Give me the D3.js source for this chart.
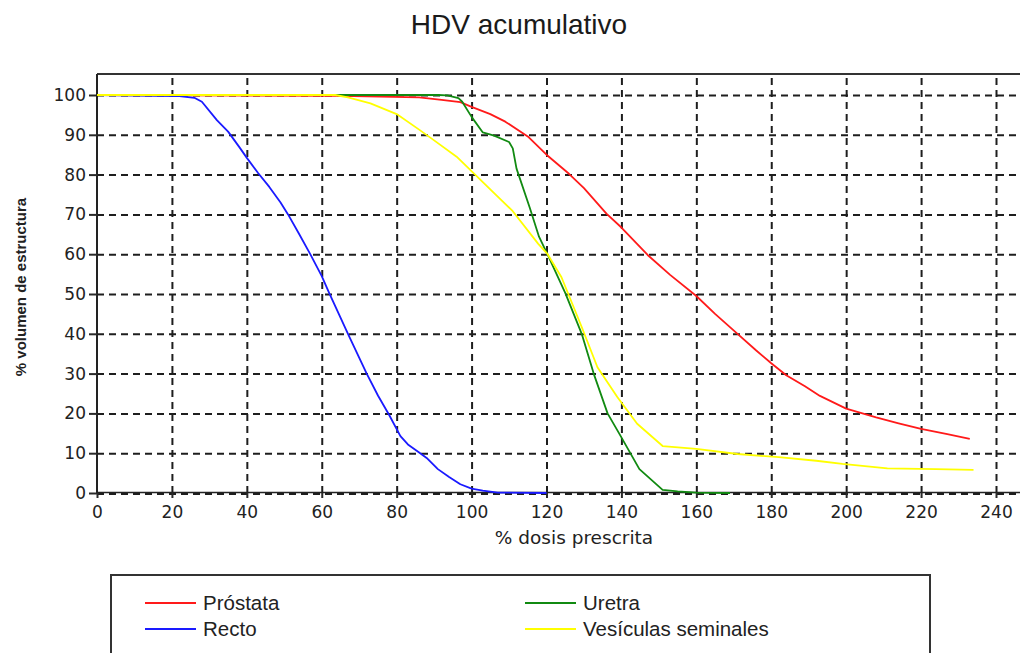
<!DOCTYPE html>
<html lang="es">
<head>
<meta charset="UTF-8">
<title>HDV acumulativo</title>
<script src="https://d3js.org/d3.v7.min.js"></script>
<style>
  body { margin: 0; background: #fff; }
  svg { display: block; }
  .grid line { stroke: #1e1e1e; stroke-width: 2; stroke-dasharray: 7,5; }
  .grid path { display: none; }
  .axis path { display: none; }
  .axis line { stroke: #2a2a2a; stroke-width: 2; }
  .axis text { font-family: "DejaVu Sans", sans-serif; font-size: 17px; fill: #222; }
</style>
</head>
<body>
<script>
// x: % dosis prescrita, y: % volumen de estructura
const doseProstata = [0, 65, 86, 92, 97, 100, 105, 109, 115, 120, 126, 130, 136, 140, 147, 153, 160, 165, 171, 176, 180, 184, 189, 193, 200, 208, 214, 220, 227, 233];
const volProstata  = [100, 99.8, 99.4, 98.8, 98.2, 97, 95.2, 93.3, 89.6, 85, 80.2, 76.6, 70.2, 66.7, 59.8, 54.8, 49.5, 45, 40, 35.8, 32.6, 29.6, 26.8, 24.4, 21.2, 19, 17.5, 16.1, 14.8, 13.6];

const doseRecto = [0, 22, 26, 28, 32, 35, 38, 40, 43, 46, 49, 51, 54, 57, 60, 62, 67, 72, 75, 78, 81, 83, 86, 88, 91, 94, 97, 100, 103, 107, 120];
const volRecto  = [100, 99.7, 99.3, 98.3, 93.7, 90.8, 86.9, 84.2, 80.4, 76.9, 73, 70, 65, 59.9, 54.5, 50.2, 40, 30, 24.5, 19.6, 14.3, 12.2, 10.2, 8.8, 6, 4, 2.2, 1.1, 0.6, 0.1, 0];

const doseUretra = [0, 91, 93.5, 96.5, 97.5, 100, 103, 106, 110, 111, 112, 115.6, 118, 120.2, 125, 129.4, 132.6, 136.3, 139.5, 144.8, 151, 155, 160, 169];
const volUretra  = [100, 100, 99.9, 99.2, 98.3, 94.5, 90.6, 89.8, 88.2, 86.6, 81.5, 71.5, 64.4, 60.1, 50.3, 40, 30, 20, 14.8, 6, 0.8, 0.4, 0.1, 0];

const doseVesiculas = [0, 63.6, 67, 73, 80, 86, 90, 96, 100.6, 106.5, 111, 117.8, 120.3, 124, 129.4, 133.6, 138.9, 144.2, 151, 160, 171, 182, 192, 199, 211, 224, 234];
const volVesiculas  = [100, 100, 99.4, 97.9, 95.2, 91.3, 88.6, 84.5, 80.3, 74.9, 70.8, 62.6, 60, 54.2, 41.7, 31.6, 24.1, 17.4, 11.8, 11.1, 9.8, 9, 8.1, 7.3, 6.2, 6, 5.8];

const seriesNames  = ["Próstata", "Recto", "Uretra", "Vesículas seminales"];
const seriesColors = ["#ff1a1a", "#1a1aff", "#118a11", "#ffff00"];

const xTicks = [0, 20, 40, 60, 80, 100, 120, 140, 160, 180, 200, 220, 240];
const yTicks = [0, 10, 20, 30, 40, 50, 60, 70, 80, 90, 100];

const W = 1020, H = 653;

const series = [
  { name: seriesNames[0], color: seriesColors[0], dose: doseProstata, vol: volProstata },
  { name: seriesNames[1], color: seriesColors[1], dose: doseRecto, vol: volRecto },
  { name: seriesNames[2], color: seriesColors[2], dose: doseUretra, vol: volUretra },
  { name: seriesNames[3], color: seriesColors[3], dose: doseVesiculas, vol: volVesiculas }
];

const x = d3.scaleLinear().domain([0, 240]).range([97, 996]);
const y = d3.scaleLinear().domain([0, 100]).range([493, 95]);
const plotTop = y(105.3);
const plotRight = 1040;

const svg = d3.select("body").append("svg")
  .attr("width", W)
  .attr("height", H);

// title
svg.append("text")
  .attr("x", 519).attr("y", 34)
  .attr("text-anchor", "middle")
  .style("font-family", "'Liberation Sans', Arial, sans-serif")
  .style("font-size", "28px")
  .style("fill", "#1a1a1a")
  .text("HDV acumulativo");

// grid (dashed)
svg.append("g")
  .attr("class", "grid")
  .attr("transform", `translate(0,${y(0)})`)
  .call(d3.axisBottom(x).tickValues(xTicks.slice(1)).tickSize(-(y(0) - plotTop)).tickFormat(""));

svg.append("g")
  .attr("class", "grid")
  .attr("transform", `translate(${x(0)},0)`)
  .call(d3.axisRight(y).tickValues(yTicks.slice(1)).tickSize(plotRight - x(0)).tickFormat(""));

// frame
svg.append("line")
  .attr("x1", x(0)).attr("x2", plotRight)
  .attr("y1", plotTop).attr("y2", plotTop)
  .attr("stroke", "#333").attr("stroke-width", 2);
svg.append("line")
  .attr("x1", x(0)).attr("x2", x(0))
  .attr("y1", plotTop).attr("y2", y(0))
  .attr("stroke", "#222").attr("stroke-width", 2);
svg.append("line")
  .attr("x1", x(0)).attr("x2", plotRight)
  .attr("y1", y(0) - 0.5).attr("y2", y(0) - 0.5)
  .attr("stroke", "#222").attr("stroke-width", 1.5);
svg.append("line")
  .attr("x1", x(0)).attr("x2", plotRight)
  .attr("y1", y(0) + 1).attr("y2", y(0) + 1)
  .attr("stroke", "#1e1e1e").attr("stroke-width", 2)
  .attr("stroke-dasharray", "7,5");

// axes
svg.append("g")
  .attr("class", "axis")
  .attr("transform", `translate(0,${y(0)})`)
  .call(d3.axisBottom(x).tickValues(xTicks).tickSize(5).tickPadding(8));

svg.append("g")
  .attr("class", "axis")
  .attr("transform", `translate(${x(0)},0)`)
  .call(d3.axisLeft(y).tickValues(yTicks).tickSize(8).tickPadding(3));

// axis titles
svg.append("text")
  .attr("x", 574).attr("y", 544)
  .attr("text-anchor", "middle")
  .style("font-family", "'DejaVu Sans', sans-serif")
  .style("font-size", "18.5px")
  .style("fill", "#222")
  .text("% dosis prescrita");

svg.append("text")
  .attr("transform", "translate(26,287) rotate(-90)")
  .attr("text-anchor", "middle")
  .style("font-family", "'Liberation Sans', Arial, sans-serif")
  .style("font-size", "15px")
  .style("font-weight", "bold")
  .style("fill", "#222")
  .text("% volumen de estructura");

// curves
const line = d3.line()
  .x(d => x(d[0]))
  .y(d => y(d[1]));

svg.append("g").selectAll("path")
  .data(series)
  .join("path")
  .attr("d", s => line(s.dose.map((d, i) => [d, s.vol[i]])))
  .attr("fill", "none")
  .attr("stroke", s => s.color)
  .attr("stroke-width", 1.8)
  .attr("stroke-linejoin", "round");

// legend
const legend = svg.append("g");
legend.append("rect")
  .attr("x", 111).attr("y", 575)
  .attr("width", 819).attr("height", 120)
  .attr("fill", "#fff")
  .attr("stroke", "#333").attr("stroke-width", 2);

const legendPos = [[145, 603], [145, 629], [525, 603], [525, 629]];
const items = legend.selectAll("g.item")
  .data(series)
  .join("g")
  .attr("class", "item")
  .attr("transform", (d, i) => `translate(${legendPos[i][0]},${legendPos[i][1]})`);

items.append("line")
  .attr("x1", 0).attr("x2", 51)
  .attr("stroke", d => d.color)
  .attr("stroke-width", 2);

items.append("text")
  .attr("x", 58).attr("y", 7)
  .style("font-family", "'Liberation Sans', Arial, sans-serif")
  .style("font-size", "20.5px")
  .style("fill", "#222")
  .text(d => d.name);
</script>
</body>
</html>
